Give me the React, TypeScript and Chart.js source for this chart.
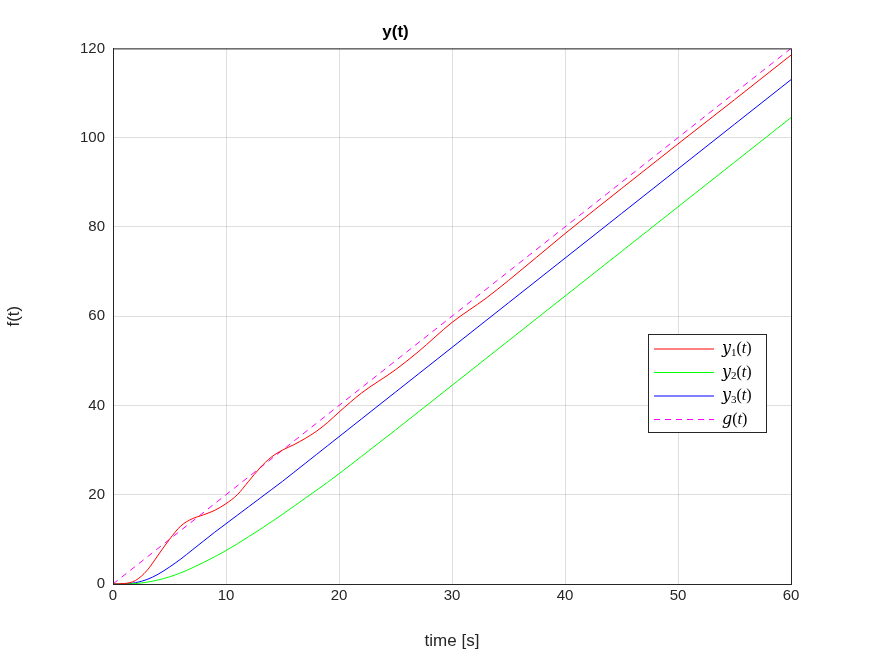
import { useEffect, useRef } from 'react';
import { Chart, registerables } from 'chart.js';

Chart.register(...registerables);

const times = [0, 1, 2, 3, 4, 5, 6, 7, 8, 9, 10, 11, 12, 13, 14, 15, 16, 17, 18, 19, 20, 22, 25, 27, 30, 33, 35, 40, 45, 50, 55, 60];
const y1 = [0, 0.1, 0.8, 3, 6.5, 10, 13, 14.6, 15.5, 16.5, 18, 20, 23, 26, 28.4, 30, 31.2, 32.6, 34.2, 36.2, 38.5, 42.8, 48, 52, 58.6, 64, 68, 78.5, 88.6, 98.6, 108.5, 118.5];
const y2 = [0, 0, 0.1, 0.4, 0.9, 1.6, 2.5, 3.6, 4.8, 6.1, 7.5, 9, 10.6, 12.2, 13.9, 15.6, 17.4, 19.2, 21, 22.8, 24.7, 28.6, 34.5, 38.5, 44.5, 50.5, 54.5, 64.5, 74.5, 84.5, 94.5, 104.5];
const y3 = [0, 0, 0.3, 1, 2.2, 3.8, 5.6, 7.6, 9.6, 11.6, 13.5, 15.4, 17.3, 19.2, 21.1, 23, 25, 27, 29, 31, 33, 37, 43, 47, 53, 59, 63, 73, 83, 93, 103, 113];
const g = [0, 60];
const gValues = [0, 120];

const legendItems = [
  { name: 'y', sub: '1', color: '#ff0000', dash: [] as number[] },
  { name: 'y', sub: '2', color: '#00ff00', dash: [] as number[] },
  { name: 'y', sub: '3', color: '#0000ff', dash: [] as number[] },
  { name: 'g', sub: '', color: '#ff00ff', dash: [6, 5] },
];

const pts = (xs: number[], ys: number[]) => xs.map((x, i) => ({ x, y: ys[i] }));

const boxLegend = {
  id: 'boxLegend',
  afterDraw(chart: Chart) {
    const { ctx, chartArea: a } = chart;
    ctx.save();
    // axes box
    ctx.strokeStyle = '#262626';
    ctx.lineWidth = 1;
    ctx.strokeRect(a.left + 0.5, a.top + 0.5, a.right - a.left, a.bottom - a.top);
    const x0 = 648, y0 = 334, w = 118, h = 98;
    ctx.fillStyle = '#fff';
    ctx.fillRect(x0, y0, w, h);
    ctx.strokeRect(x0 + 0.5, y0 + 0.5, w, h);
    legendItems.forEach((it, i) => {
      const yy = y0 + 15 + i * 23.5;
      ctx.strokeStyle = it.color;
      ctx.setLineDash(it.dash);
      ctx.beginPath();
      ctx.moveTo(x0 + 6, yy);
      ctx.lineTo(x0 + 66, yy);
      ctx.stroke();
      ctx.setLineDash([]);
      ctx.fillStyle = '#000';
      ctx.textBaseline = 'middle';
      ctx.font = 'italic 16px "DejaVu Serif", "Liberation Serif", serif';
      let tx = x0 + 74;
      ctx.fillText(it.name, tx, yy);
      tx += ctx.measureText(it.name).width;
      if (it.sub) {
        ctx.font = '11px "Liberation Serif", serif';
        ctx.fillText(it.sub, tx, yy + 4);
        tx += ctx.measureText(it.sub).width;
      }
      ctx.font = '16px "Liberation Serif", serif';
      ctx.fillText('(', tx, yy);
      tx += ctx.measureText('(').width;
      ctx.font = 'italic 16px "Liberation Serif", serif';
      ctx.fillText('t', tx, yy);
      tx += ctx.measureText('t').width;
      ctx.font = '16px "Liberation Serif", serif';
      ctx.fillText(')', tx, yy);
    });
    ctx.restore();
  },
};

export default function App() {
  const canvasRef = useRef<HTMLCanvasElement | null>(null);
  useEffect(() => {
    document.body.style.margin = '0';
    if (!canvasRef.current) return;
    const font = { family: '"Liberation Sans", Arial, sans-serif', size: 15 };
    const chart = new Chart(canvasRef.current, {
      type: 'line',
      data: {
        datasets: [
          { data: pts(times, y1), borderColor: '#ff0000', cubicInterpolationMode: 'monotone' },
          { data: pts(times, y2), borderColor: '#00ff00', cubicInterpolationMode: 'monotone' },
          { data: pts(times, y3), borderColor: '#0000ff', cubicInterpolationMode: 'monotone' },
          { data: pts(g, gValues), borderColor: '#ff00ff', borderDash: [6, 5] },
        ].map(d => ({ ...d, borderWidth: 1, pointRadius: 0, fill: false })),
      },
      options: {
        animation: false,
        responsive: false,
        layout: { padding: { right: 84 } },
        plugins: {
          legend: { display: false },
          tooltip: { enabled: false },
          title: {
            display: true,
            text: 'y(t)',
            color: '#000',
            font: { family: font.family, size: 17, weight: 'bold' },
            padding: { top: 22, bottom: 6 },
          },
        },
        scales: {
          x: {
            type: 'linear', min: 0, max: 60,
            ticks: { stepSize: 10, color: '#262626', font },
            grid: { color: 'rgba(0,0,0,0.13)', drawTicks: false },
            border: { color: '#262626' },
            title: { display: true, text: 'time [s]', color: '#262626', font: { ...font, size: 17 } },
            afterFit: (s: any) => { s.height = 72; },
          },
          y: {
            min: 0, max: 120,
            ticks: { stepSize: 20, color: '#262626', font, padding: 8 },
            grid: { color: 'rgba(0,0,0,0.13)', drawTicks: false },
            border: { color: '#262626' },
            title: { display: true, text: 'f(t)', color: '#262626', font: { ...font, size: 17 } },
            afterFit: (s: any) => { s.width = 113; },
          },
        },
      },
      plugins: [boxLegend],
    });
    return () => chart.destroy();
  }, []);
  return <canvas ref={canvasRef} width={875} height={656} />;
}
